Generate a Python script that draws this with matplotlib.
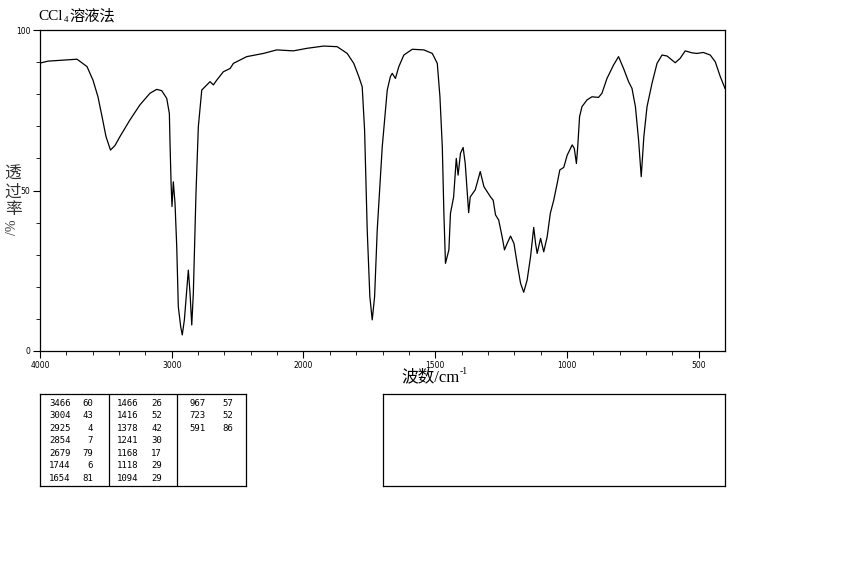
import numpy as np
import matplotlib.pyplot as plt
from matplotlib.ticker import FixedLocator, FixedFormatter

# IR spectrum, CCl4 solution
wavenumber = [4000, 3939, 3719, 3643, 3598, 3560, 3529, 3499, 3465, 3431, 3393, 3317,
              3241, 3165, 3114, 3076, 3038, 3018, 3013, 3005, 2998, 2988, 2975, 2962,
              2950, 2932, 2920, 2904, 2886, 2874, 2861, 2848, 2836, 2816, 2798, 2772,
              2722, 2709, 2684, 2658, 2608, 2557, 2532, 2431, 2304, 2203, 2077, 1986,
              1923, 1872, 1834, 1809, 1790, 1777, 1768, 1758, 1748, 1739, 1730, 1720,
              1701, 1682, 1670, 1663, 1651, 1638, 1619, 1587, 1543, 1511, 1492, 1482,
              1473, 1467, 1461, 1448, 1442, 1430, 1420, 1413, 1404, 1394, 1386, 1379,
              1373, 1367, 1348, 1329, 1315, 1290, 1280, 1271, 1259, 1246, 1237, 1227,
              1214, 1201, 1189, 1176, 1164, 1151, 1138, 1126, 1119, 1113, 1100, 1088,
              1075, 1063, 1050, 1037, 1027, 1012, 999, 980, 972, 964, 959, 952,
              943, 924, 905, 880, 867, 848, 823, 804, 785, 766, 753, 740,
              728, 718, 708, 696, 677, 658, 639, 620, 589, 570, 551, 526,
              507, 482, 456, 437, 418, 400]
transmittance = [89.7, 90.3, 90.9, 88.6, 84.4, 79.2, 73.0, 66.8, 62.6, 64.0, 66.8, 72.0,
                 76.7, 80.3, 81.5, 81.1, 78.7, 74.0, 64.8, 52.3, 45.0, 52.7, 46.0, 32.5,
                 13.8, 7.6, 5.0, 9.7, 19.0, 25.2, 18.0, 8.1, 18.0, 49.0, 69.9, 81.3,
                 83.4, 83.9, 82.9, 84.4, 87.0, 88.0, 89.6, 91.7, 92.7, 93.8, 93.5, 94.3,
                 95.0, 94.8, 92.7, 89.6, 85.5, 82.3, 68.8, 37.7, 16.9, 9.7, 16.9, 37.7,
                 63.6, 81.3, 85.5, 86.5, 84.9, 88.6, 92.2, 94.0, 93.8, 92.7, 89.6, 79.2,
                 63.6, 42.9, 27.3, 31.5, 42.9, 48.0, 60.0, 54.8, 61.6, 63.4, 58.4, 50.2,
                 43.1, 48.0, 50.2, 55.9, 51.2, 48.0, 47.0, 42.4, 40.8, 35.6, 31.5, 33.5,
                 35.8, 33.5, 27.3, 21.1, 18.3, 22.1, 29.4, 38.5, 33.5, 30.4, 35.1, 30.9,
                 35.6, 42.9, 47.0, 52.2, 56.4, 57.2, 61.0, 64.2, 63.1, 58.4, 63.6, 73.0,
                 76.1, 78.2, 79.2, 79.0, 80.3, 84.9, 89.1, 91.7, 88.0, 83.9, 81.8, 76.1,
                 65.7, 54.3, 66.8, 76.1, 83.4, 89.6, 92.2, 91.9, 89.8, 91.2, 93.5, 92.9,
                 92.7, 93.0, 92.2, 90.1, 85.5, 81.8]

# peak table
peak_cols = [
    [("3466", "60"), ("3004", "43"), ("2925", "4"), ("2854", "7"),
     ("2679", "79"), ("1744", "6"), ("1654", "81")],
    [("1466", "26"), ("1416", "52"), ("1378", "42"), ("1241", "30"),
     ("1168", "17"), ("1118", "29"), ("1094", "29")],
    [("967", "57"), ("723", "52"), ("591", "86")],
]

x_major = [4000, 3000, 2000, 1500, 1000, 500]
x_minor = list(range(3800, 2000, -200)) + list(range(1900, 400, -100))

W, H = 850, 567
fig = plt.figure(figsize=(W / 100, H / 100), dpi=100)
FAM = ['Liberation Serif', 'Noto Sans CJK SC']


def fx(px):
    return px / W


def fy(py):
    return 1 - py / H


# axis: 2x expanded scale below 2000 cm-1
def fwd(w):
    w = np.asarray(w, dtype=float)
    return np.where(w >= 2000, w, 2 * w - 2000)


def inv(u):
    u = np.asarray(u, dtype=float)
    return np.where(u >= 2000, u, (u + 2000) / 2)


ax = fig.add_axes([fx(40), fy(351), fx(725) - fx(40), fy(30) - fy(351)])
ax.set_xscale('function', functions=(fwd, inv))
ax.plot(wavenumber, transmittance, color='black', lw=0.9)
ax.set_xlim(4000, 400)
ax.set_ylim(0, 100)

ax.xaxis.set_major_locator(FixedLocator(x_major))
ax.xaxis.set_major_formatter(FixedFormatter([str(v) for v in x_major]))
ax.xaxis.set_minor_locator(FixedLocator(x_minor))
ax.set_yticks([0, 50, 100])
ax.set_yticks(range(10, 100, 10), minor=True)
ax.tick_params(which='major', direction='out', length=5, width=0.8, labelsize=5.5, pad=2)
ax.tick_params(which='minor', direction='out', length=3, width=0.6)
for s in ax.spines.values():
    s.set_linewidth(0.9)

# title: CCl4溶液法 (subscript done by hand so the CJK font is kept)
fig.text(fx(38), fy(16), 'CCl', family=FAM, fontsize=11, va='center', ha='left')
fig.text(fx(63.5), fy(20), '4', family=FAM, fontsize=6.5, va='center', ha='left')
fig.text(fx(69), fy(16), '溶液法', family=FAM, fontsize=11, va='center', ha='left')

# x label: 波数/cm-1
fig.text(fx(460), fy(377), '波数/cm', family=FAM, fontsize=12, va='center', ha='right')
fig.text(fx(460), fy(371), '-1', family=FAM, fontsize=7, va='center', ha='left')

# y label, stacked vertically
for ch, py in zip(['透', '过', '率'], [175, 193, 210]):
    fig.text(fx(13), fy(py), ch, family=FAM, fontsize=12,
             va='center', ha='center', color='#333333')
fig.text(fx(13), fy(227), '/%', family=FAM, fontsize=10,
         va='center', ha='center', rotation=90, color='#333333')

# peak table box
tab = fig.add_axes([fx(40), fy(486), fx(246) - fx(40), fy(394) - fy(486)])
tab.set_xlim(40, 246)
tab.set_ylim(486, 394)
tab.set_xticks([])
tab.set_yticks([])
for s in tab.spines.values():
    s.set_linewidth(0.9)
tab.axvline(109, color='black', lw=0.9)
tab.axvline(177, color='black', lw=0.9)

col_num_x = [49, 117, 206]
col_val_x = [93, 162, 233]
num_ha = ['left', 'left', 'right']
for c, col in enumerate(peak_cols):
    for r, (num, val) in enumerate(col):
        py = 403 + r * 12.6
        tab.text(col_num_x[c], py, num, family='DejaVu Sans Mono', fontsize=6.5,
                 ha=num_ha[c], va='center')
        tab.text(col_val_x[c], py, val, family='DejaVu Sans Mono', fontsize=6.5,
                 ha='right', va='center')

# empty comment box
box = fig.add_axes([fx(383), fy(486), fx(725) - fx(383), fy(394) - fy(486)])
box.set_xticks([])
box.set_yticks([])
for s in box.spines.values():
    s.set_linewidth(0.9)

fig.savefig('out.png', dpi=100)
